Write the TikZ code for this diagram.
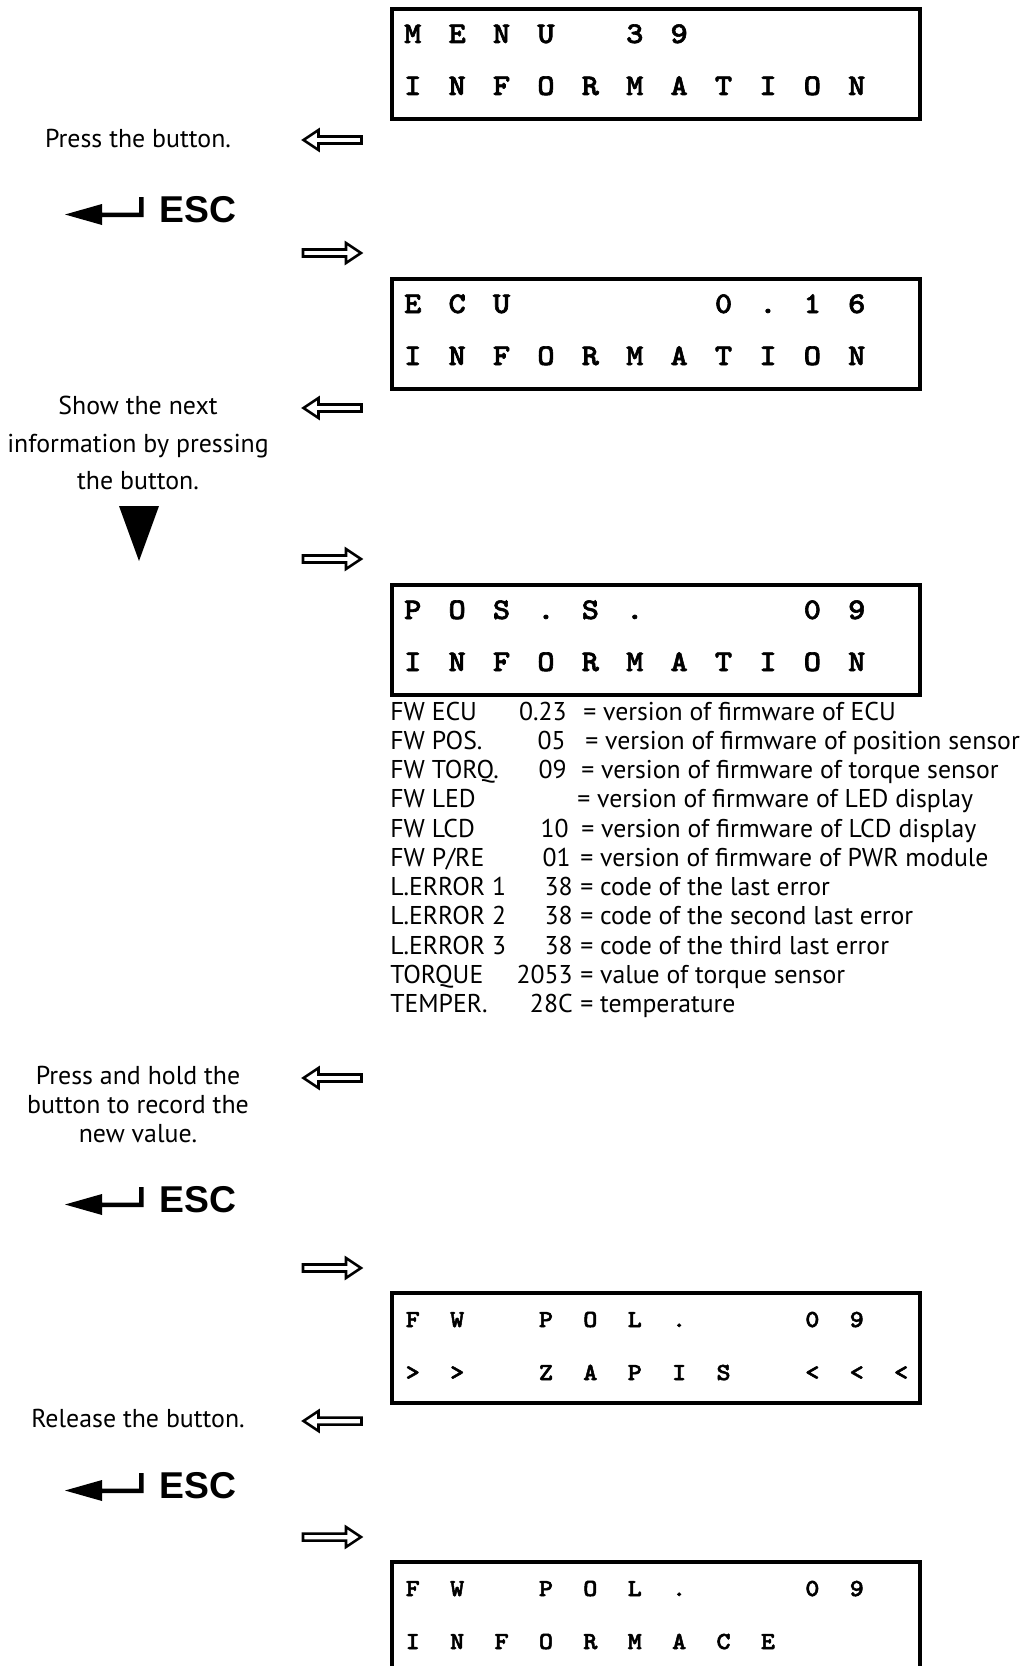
\documentclass[tikz,border=0pt]{standalone}
\usepackage{fontspec}
\newfontfamily\notefont{PT Sans}
\newfontfamily\escfont{Liberation Sans}
\newfontfamily\lcdfont{lmmonolt10-bold.otf}[FakeBold=2,FakeStretch=1.1]
\newcommand\lcdcells[1]{\foreach \lcdch in {#1}{\makebox[33.3pt][c]{\lcdch}}}
\begin{document}
\begin{tikzpicture}[x=0.75pt,y=-0.75pt,
  lcdbox/.style={draw, line width=3pt, inner sep=0pt, minimum width=396pt, minimum height=82.5pt},
  lcdrow/.style={anchor=base west, inner sep=0pt, font=\fontsize{22.5}{22.5}\selectfont\lcdfont},
  lcdrowsmall/.style={anchor=base west, inner sep=0pt, font=\fontsize{18.4}{18.4}\selectfont\lcdfont},
  note/.style={anchor=base, inner sep=0pt, font=\fontsize{19.4}{22}\selectfont\notefont},
  listlab/.style={anchor=base west, inner sep=0pt, font=\fontsize{19.3}{22}\selectfont\notefont},
  listval/.style={anchor=base east, inner sep=0pt, font=\fontsize{19.3}{22}\selectfont\notefont},
  esclabel/.style={anchor=base west, inner sep=0pt, font=\fontsize{28}{30}\selectfont\escfont\bfseries},
  hollow/.style={draw=black, fill=white, line width=1.9pt},
  leftarrow/.pic={\draw[hollow] (0,-3.5) -- (-43,-3.5) -- (-43,-10) -- (-58,0) -- (-43,10) -- (-43,3.5) -- (0,3.5) -- cycle;},
  escarrow/.pic={\fill[black] (-94,-7.5) -- (-57,-18) -- (-57,-9.5) -- (-20,-9.5) -- (-20,-25) -- (-15.5,-25) -- (-15.5,-5) -- (-57,-5) -- (-57,3) -- cycle;}
]
\useasboundingbox (0,0) rectangle (1024,1666);
\clip (0,0) rectangle (1024,1666);
\fill[white] (0,0) rectangle (1024,1666);

% LCD boxes
\node[lcdbox] (lcd1) at (656,64) {};
\node[lcdbox] (lcd2) at (656,334) {};
\node[lcdbox] (lcd3) at (656,640) {};
\node[lcdbox] (lcd4) at (656,1348) {};
\node[lcdbox] (lcd5) at (656,1617) {};

\node[lcdrow] (l1a) at (390.3,43) {\lcdcells{M,E,N,U,{},3,9}};
\node[lcdrow] (l1b) at (390.3,95) {\lcdcells{I,N,F,O,R,M,A,T,I,O,N}};
\node[lcdrow] (l2a) at (390.3,313) {\lcdcells{E,C,U,{},{},{},{},0,.,1,6}};
\node[lcdrow] (l2b) at (390.3,365) {\lcdcells{I,N,F,O,R,M,A,T,I,O,N}};
\node[lcdrow] (l3a) at (390.3,619) {\lcdcells{P,O,S,.,S,.,{},{},{},0,9}};
\node[lcdrow] (l3b) at (390.3,671) {\lcdcells{I,N,F,O,R,M,A,T,I,O,N}};
\node[lcdrowsmall] (l4a) at (390.3,1327) {\lcdcells{F,W,{},P,O,L,.,{},{},0,9}};
\node[lcdrowsmall] (l4b) at (390.3,1380) {\lcdcells{>,>,{},Z,A,P,I,S,{},<,<,<}};
\node[lcdrowsmall] (l5a) at (390.3,1596) {\lcdcells{F,W,{},P,O,L,.,{},{},0,9}};
\node[lcdrowsmall] (l5b) at (390.3,1649) {\lcdcells{I,N,F,O,R,M,A,C,E}};

% left hollow arrows and right hollow arrows
\pic at (361.5,140) {leftarrow};
\pic at (361.5,408) {leftarrow};
\pic at (361.5,1078) {leftarrow};
\pic at (361.5,1421) {leftarrow};
\pic[xscale=-1] at (303,253) {leftarrow};
\pic[xscale=-1] at (303,559) {leftarrow};
\pic[xscale=-1] at (303,1268) {leftarrow};
\pic[xscale=-1] at (303,1537) {leftarrow};

% instructions
\node[note] (press) at (138,148) {Press the button.};
\node[note] (show1) at (138,414) {Show the next};
\node[note] (show2) at (138,452) {information by pressing};
\node[note] (show3) at (138,489) {the button.};
\fill[black] (119,506) -- (159,506) -- (139,561) -- cycle;
\node[note] (hold1) at (138,1084) {Press and hold the};
\node[note] (hold2) at (138,1113) {button to record the};
\node[note] (hold3) at (138,1142) {new value.};
\node[note] (release) at (138,1427) {Release the button.};

% ESC keys
\node[esclabel] (esc1) at (159,222) {ESC};
\pic at (esc1.base west) {escarrow};
\node[esclabel] (esc2) at (159,1212) {ESC};
\pic at (esc2.base west) {escarrow};
\node[esclabel] (esc3) at (159,1498) {ESC};
\pic at (esc3.base west) {escarrow};

% information list
\foreach \i/\lab/\val/\vx/\ex/\desc in {
  0/{FW ECU}/{0.23}/567/583/{= version of firmware of ECU},
  1/{FW POS.}/{05}/566/585/{= version of firmware of position sensor},
  2/{FW TORQ.}/{09}/567/581/{= version of firmware of torque sensor},
  3/{FW LED}/{}/567/577/{= version of firmware of LED display},
  4/{FW LCD}/{10}/569/581/{= version of firmware of LCD display},
  5/{FW P/RE}/{01}/571/580/{= version of firmware of PWR module},
  6/{L.ERROR 1}/{38}/573/580/{= code of the last error},
  7/{L.ERROR 2}/{38}/573/580/{= code of the second last error},
  8/{L.ERROR 3}/{38}/573/580/{= code of the third last error},
  9/{TORQUE}/{2053}/573/580/{= value of torque sensor},
  10/{TEMPER.}/{28C}/573/580/{= temperature}}{
  \node[listlab] (lab\i) at (390,720+29.27*\i) {\lab};
  \node[listval] (val\i) at (\vx,720+29.27*\i) {\val};
  \node[listlab] (dsc\i) at (\ex,720+29.27*\i) {\desc};
}
\end{tikzpicture}
\end{document}
